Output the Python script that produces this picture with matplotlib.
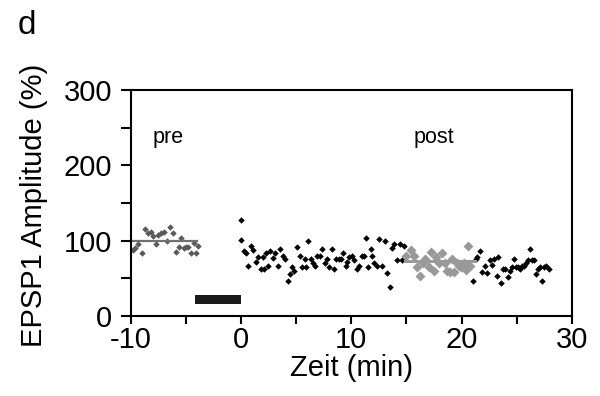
import matplotlib
matplotlib.use("Agg")
import matplotlib.pyplot as plt
from matplotlib.ticker import MultipleLocator

plt.rcParams["font.family"] = ["Liberation Sans", "DejaVu Sans"]
plt.rcParams["axes.unicode_minus"] = False

# pre-conditioning baseline (dark grey diamonds)
pre_t = [-9.83, -9.58, -9.31, -8.96, -8.68, -8.44, -8.20, -7.99, -7.75, -7.51,
         -7.23, -6.95, -6.71, -6.47, -6.13, -5.91, -5.67, -5.43, -5.16, -4.99,
         -4.81, -4.57, -4.29, -4.12, -3.94]
pre_v = [88, 90, 96, 83, 115, 110, 112, 106, 95, 108,
         110, 112, 100, 118, 110, 85, 92, 104, 90, 91,
         92, 84, 97, 84, 93]
pre_mean = 100

# post, black diamonds (0-15 min)
post_a_t = [0.00, 0.04, 0.25, 0.49, 0.67, 0.91, 1.08, 1.32, 1.53, 1.77,
            1.95, 2.12, 2.29, 2.47, 2.64, 2.88, 3.09, 3.33, 3.51, 3.78,
            4.03, 4.27, 4.48, 4.62, 4.83, 5.07, 5.31, 5.52, 5.76, 5.93,
            6.11, 6.35, 6.56, 6.70, 6.90, 7.14, 7.31, 7.59, 7.83, 8.01,
            8.21, 8.46, 8.63, 8.87, 9.05, 9.25, 9.50, 9.64, 9.81, 10.02,
            10.26, 10.50, 10.71, 10.95, 11.13, 11.30, 11.54, 11.75, 11.89, 12.10,
            12.34, 12.51, 12.79, 13.03, 13.27, 13.55, 13.72, 13.90, 14.17, 14.38,
            14.59, 14.76]
post_a_v = [127, 101, 86, 84, 66, 93, 88, 72, 78, 62,
            78, 62, 84, 67, 86, 77, 83, 67, 89, 79,
            76, 47, 56, 65, 60, 92, 79, 65, 75, 65,
            100, 76, 70, 67, 79, 80, 89, 70, 76, 65,
            89, 62, 76, 76, 76, 83, 67, 72, 78, 80,
            74, 62, 67, 80, 80, 103, 65, 89, 80, 70,
            67, 102, 67, 100, 57, 39, 90, 96, 74, 96,
            74, 93]

# post, analysis window (light grey diamonds)
post_b_t = [15.00, 15.45, 15.70, 15.97, 16.25, 16.49, 16.73, 17.01, 17.25, 17.53,
            17.70, 17.98, 18.22, 18.46, 18.67, 18.91, 19.15, 19.36, 19.60, 19.77,
            19.95, 20.19, 20.40, 20.61, 20.75]
post_b_v = [79, 88, 79, 65, 53, 70, 76, 65, 85, 60,
            78, 70, 83, 70, 60, 58, 76, 58, 70, 67,
            65, 70, 61, 93, 67]
post_mean = 73

# post, black diamonds (21-28 min)
post_c_t = [21.06, 21.27, 21.44, 21.69, 21.86, 22.14, 22.31, 22.55, 22.73, 22.97,
            23.18, 23.35, 23.59, 23.77, 23.94, 24.18, 24.35, 24.56, 24.80, 24.97,
            25.15, 25.32, 25.49, 25.66, 25.84, 26.01, 26.18, 26.35, 26.53, 26.77,
            26.91, 27.11, 27.32, 27.46, 27.67, 27.91]
post_c_v = [47, 76, 78, 86, 58, 67, 57, 74, 68, 76,
            53, 78, 44, 63, 63, 52, 60, 65, 76, 65,
            65, 63, 67, 67, 70, 74, 89, 74, 74, 56,
            62, 65, 46, 65, 67, 62]

# conditioning period bar
bar_start, bar_end = -4.2, 0.0
bar_low, bar_high = 15.5, 27.5

fig = plt.figure(figsize=(6.0, 3.96), dpi=100)
ax = fig.add_axes([0.218, 0.202, 0.735, 0.571])

ax.plot(pre_t, pre_v, "D", color="#5a5a5a", ms=3.3, mec="none")
ax.plot([-10, -4.0], [pre_mean, pre_mean], color="#707070", lw=1.6)

ax.plot(post_a_t, post_a_v, "D", color="black", ms=3.3, mec="none")
ax.plot(post_c_t, post_c_v, "D", color="black", ms=3.3, mec="none")
ax.plot(post_b_t, post_b_v, "D", color="#999999", ms=4.8, mec="none")
ax.plot([14.9, 21.2], [post_mean, post_mean], color="#999999", lw=2.2)

ax.bar(bar_start, bar_high - bar_low, width=bar_end - bar_start,
       bottom=bar_low, align="edge", color="#1a1a1a", lw=0)

ax.text(-6.6, 237, "pre", fontsize=15.5, ha="center", va="center")
ax.text(17.5, 237, "post", fontsize=15.5, ha="center", va="center")

ax.set_xlim(-10, 30)
ax.set_ylim(0, 300)
ax.xaxis.set_major_locator(MultipleLocator(10))
ax.xaxis.set_minor_locator(MultipleLocator(5))
ax.yaxis.set_major_locator(MultipleLocator(100))
ax.yaxis.set_minor_locator(MultipleLocator(50))
ax.tick_params(which="both", direction="out", width=1.5, labelsize=21)
ax.tick_params(axis="x", which="both", length=5.5, pad=2)
ax.tick_params(axis="y", which="both", length=7.5, pad=6)
for s in ax.spines.values():
    s.set_linewidth(1.5)

ax.set_xlabel("Zeit (min)", fontsize=21, labelpad=0)
ax.set_ylabel("EPSP1 Amplitude (%)", fontsize=21)
ax.yaxis.set_label_coords(-(130.7 - 48) / 441.3, 0.49)

fig.text(27 / 600, 1 - 25 / 396, "d", fontsize=24, ha="center", va="center")

fig.savefig("out.png", dpi=100)
